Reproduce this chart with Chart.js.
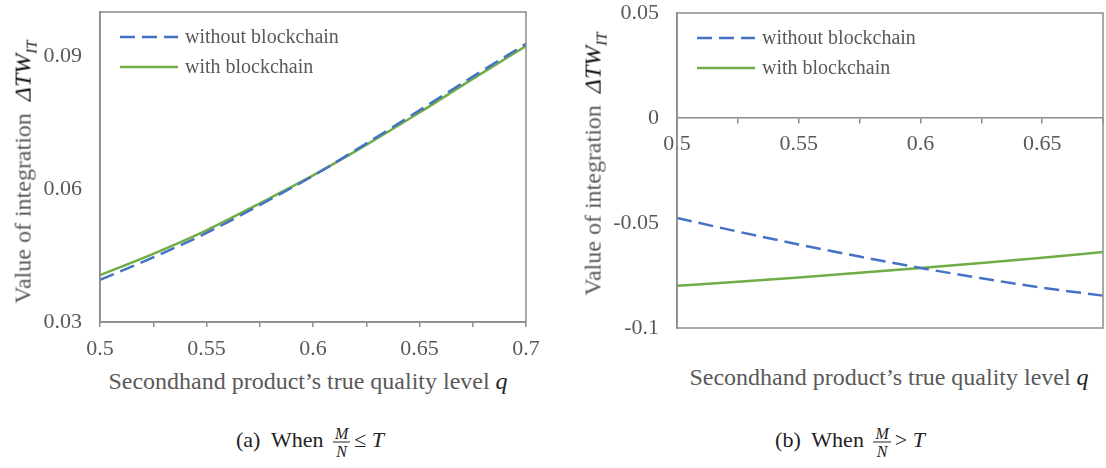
<!DOCTYPE html>
<html>
<head>
<meta charset="utf-8">
<script src="https://cdn.jsdelivr.net/npm/chart.js@4.4.1/dist/chart.umd.min.js"></script>
<style>
  html, body { margin: 0; padding: 0; background: #fff; }
  #page { position: relative; width: 1106px; height: 468px; overflow: hidden; font-family: "Liberation Serif", "Times New Roman", serif; color: #595959; }
  .box { position: absolute; }
  .ytitle { position: absolute; white-space: nowrap; font-size: 24px; transform: translate(-50%, -50%) rotate(-90deg); }
  .ytitle .m { color: #111; font-style: italic; }
  .ytitle sub { font-size: 15px; }
  .xtitle { position: absolute; white-space: nowrap; font-size: 24px; transform: translate(-50%, -50%); }
  .xtitle i { color: #222; }
  .caption { position: absolute; white-space: nowrap; font-size: 22px; color: #222; transform: translate(-50%, -50%); }
  .frac { display: inline-block; vertical-align: middle; text-align: center; font-style: italic; font-size: 16px; line-height: 17px; margin: 0 4px; }
  .frac span { display: block; padding: 0 2px; }
  .frac span:first-child { border-bottom: 1px solid #222; }
</style>
</head>
<body>
<div id="page">
  <div class="box" style="left:0;top:0;width:546px;height:362px;"><canvas id="chart-left"></canvas></div>
  <div class="box" style="left:560px;top:0;width:546px;height:345px;"><canvas id="chart-right"></canvas></div>

  <div class="ytitle" style="left:25px;top:172px;">Value of integration&nbsp; <span class="m">ΔTW<sub>IT</sub></span></div>
  <div class="ytitle" style="left:595px;top:164px;">Value of integration&nbsp; <span class="m">ΔTW<sub>IT</sub></span></div>

  <div class="xtitle" style="left:308px;top:381px;">Secondhand product’s true quality level <i>q</i></div>
  <div class="xtitle" style="left:889px;top:377px;">Secondhand product’s true quality level <i>q</i></div>

  <div class="caption" style="left:310px;top:442px;">(a)&nbsp; When <span class="frac"><span>M</span><span>N</span></span>≤ <i>T</i></div>
  <div class="caption" style="left:850px;top:442px;">(b)&nbsp; When <span class="frac"><span>M</span><span>N</span></span>&gt; <i>T</i></div>
</div>

<script>
// series labels
const seriesNames = ['without blockchain', 'with blockchain'];

// (a) M/N <= T
const leftQ = [0.5, 0.525, 0.55, 0.575, 0.6, 0.625, 0.65, 0.675, 0.7];
const leftWithout = [0.0395, 0.0446, 0.0501, 0.0564, 0.0630, 0.0703, 0.0778, 0.0854, 0.0928];
const leftWith = [0.0406, 0.0454, 0.0507, 0.0568, 0.0631, 0.0700, 0.0773, 0.0849, 0.0923];
const leftXTicks = [0.5, 0.525, 0.55, 0.575, 0.6, 0.625, 0.65, 0.675, 0.7];
const leftXLabels = ['0.5', '', '0.55', '', '0.6', '', '0.65', '', '0.7'];
const leftYTicks = [0.03, 0.06, 0.09];
const leftYLabels = ['0.03', '0.06', '0.09'];

// (b) M/N > T
const rightQ = [0.5, 0.525, 0.55, 0.575, 0.6, 0.625, 0.65, 0.675];
const rightWithout = [-0.0476, -0.0541, -0.0602, -0.0660, -0.0714, -0.0763, -0.0808, -0.0846];
const rightWith = [-0.0799, -0.0780, -0.0759, -0.0737, -0.0714, -0.0690, -0.0665, -0.0638];
const rightXTicks = [0.5, 0.525, 0.55, 0.575, 0.6, 0.625, 0.65, 0.675];
const rightXLabels = ['0.5', '', '0.55', '', '0.6', '', '0.65', ''];
const rightYTicks = [-0.1, -0.05, 0, 0.05];
const rightYLabels = ['-0.1', '-0.05', '0', '0.05'];

const BLUE = '#4472C4';
const GREEN = '#70AD47';
const AXIS = '#8c8c8c';
const TEXT = '#595959';
const FONT = { family: '"Liberation Serif", "Times New Roman", serif', size: 22 };
const LEGEND_SIZE = 20;

Chart.defaults.font.family = FONT.family;
Chart.defaults.color = TEXT;

// frame round the plot area
const framePlugin = {
    id: 'frame',
    afterDraw(chart) {
        const a = chart.chartArea;
        const ctx = chart.ctx;
        ctx.save();
        ctx.strokeStyle = AXIS;
        ctx.lineWidth = 1.5;
        ctx.strokeRect(a.left, a.top, a.right - a.left, a.bottom - a.top);
        ctx.restore();
    }
};

// legend drawn inside the plot, top left
const innerLegend = {
    id: 'innerLegend',
    afterDatasetsDraw(chart) {
        const a = chart.chartArea;
        const ctx = chart.ctx;
        ctx.save();
        ctx.font = LEGEND_SIZE + 'px ' + FONT.family;
        ctx.textBaseline = 'middle';
        chart.data.datasets.forEach((ds, i) => {
            const y = a.top + 25 + i * 30;
            const x = a.left + 20;
            ctx.strokeStyle = ds.borderColor;
            ctx.lineWidth = ds.borderWidth;
            ctx.setLineDash(ds.borderDash || []);
            ctx.beginPath();
            ctx.moveTo(x, y);
            ctx.lineTo(x + 58, y);
            ctx.stroke();
            ctx.setLineDash([]);
            ctx.fillStyle = TEXT;
            ctx.fillText(ds.label, x + 65, y + 1);
        });
        ctx.restore();
    }
};

function toPoints(xs, ys) {
    return xs.map((x, i) => ({ x: x, y: ys[i] }));
}

function makeDatasets(xs, without, withB) {
    return [
        {
            label: seriesNames[0],
            data: toPoints(xs, without),
            borderColor: BLUE,
            borderWidth: 2.5,
            borderDash: [15, 7],
            pointRadius: 0,
            tension: 0.4,
            cubicInterpolationMode: 'monotone',
            fill: false
        },
        {
            label: seriesNames[1],
            data: toPoints(xs, withB),
            borderColor: GREEN,
            borderWidth: 2.5,
            pointRadius: 0,
            tension: 0.4,
            cubicInterpolationMode: 'monotone',
            fill: false
        }
    ];
}

function fixedTicks(values) {
    return (scale) => { scale.ticks = values.map(v => ({ value: v })); };
}

// keep label overflow from pushing the plot area around
function noMargins(s) {
    s.paddingTop = 0;
    s.paddingBottom = 0;
    s.paddingLeft = 0;
    s.paddingRight = 0;
}

// (a)
new Chart(document.getElementById('chart-left').getContext('2d'), {
    type: 'line',
    data: { datasets: makeDatasets(leftQ, leftWithout, leftWith) },
    options: {
        responsive: true,
        maintainAspectRatio: false,
        animation: false,
        layout: { padding: { left: 0, top: 12, right: 20, bottom: 0 } },
        plugins: { legend: { display: false }, tooltip: { enabled: false } },
        scales: {
            x: {
                type: 'linear',
                min: 0.5,
                max: 0.7,
                afterBuildTicks: fixedTicks(leftXTicks),
                afterFit: (s) => { s.height = 40; noMargins(s); },
                grid: { drawOnChartArea: false, drawTicks: true, tickLength: 5, color: AXIS, lineWidth: 1.5 },
                border: { display: true, color: AXIS, width: 1.5 },
                ticks: {
                    font: FONT, color: TEXT, padding: 9, maxRotation: 0, autoSkip: false,
                    callback: (v, i) => leftXLabels[i]
                }
            },
            y: {
                min: 0.03,
                max: 0.1,
                afterBuildTicks: fixedTicks(leftYTicks),
                afterFit: (s) => { s.width = 100; noMargins(s); },
                grid: { drawOnChartArea: false, drawTicks: false },
                border: { display: true, color: AXIS, width: 1.5 },
                ticks: {
                    font: FONT, color: TEXT, padding: 18,
                    callback: (v, i) => leftYLabels[i]
                }
            }
        }
    },
    plugins: [framePlugin, innerLegend]
});

// (b)
new Chart(document.getElementById('chart-right').getContext('2d'), {
    type: 'line',
    data: { datasets: makeDatasets(rightQ, rightWithout, rightWith) },
    options: {
        responsive: true,
        maintainAspectRatio: false,
        animation: false,
        layout: { padding: { left: 0, top: 13, right: 3, bottom: 17 } },
        plugins: { legend: { display: false }, tooltip: { enabled: false } },
        scales: {
            x: {
                type: 'linear',
                position: { y: 0 },
                min: 0.5,
                max: 0.675,
                afterBuildTicks: fixedTicks(rightXTicks),
                afterFit: (s) => { s.height = 0; noMargins(s); },
                grid: { drawOnChartArea: false, drawTicks: true, tickLength: 5, color: AXIS, lineWidth: 1.5 },
                border: { display: true, color: AXIS, width: 1.5 },
                ticks: {
                    font: FONT, color: TEXT, padding: 8, maxRotation: 0, autoSkip: false,
                    callback: (v, i) => rightXLabels[i]
                }
            },
            y: {
                min: -0.1,
                max: 0.05,
                afterBuildTicks: fixedTicks(rightYTicks),
                afterFit: (s) => { s.width = 117; noMargins(s); },
                grid: { drawOnChartArea: false, drawTicks: false },
                border: { display: true, color: AXIS, width: 1.5 },
                ticks: {
                    font: FONT, color: TEXT, padding: 18,
                    callback: (v, i) => rightYLabels[i]
                }
            }
        }
    },
    plugins: [framePlugin, innerLegend]
});
</script>
</body>
</html>
